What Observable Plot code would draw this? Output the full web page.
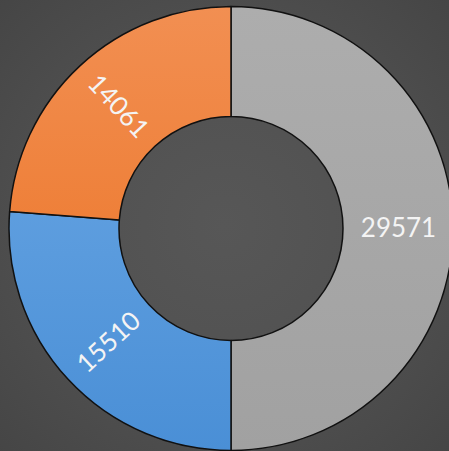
<!DOCTYPE html>
<html>
<head>
<meta charset="utf-8">
<script src="https://cdn.jsdelivr.net/npm/d3@7"></script>
<script src="https://cdn.jsdelivr.net/npm/@observablehq/plot@0.6"></script>
<style>
  html, body { margin: 0; padding: 0; background: #4a4a4a; overflow: hidden; }
  #chart svg { display: block; }
</style>
</head>
<body>
<div id="chart"></div>
<script>
// Data, clockwise from 12 o'clock
const categories = ["Gray", "Blue", "Orange"];
const values = [29571, 15510, 14061];
const colorsTop = ["#adadad", "#6eaae6", "#f28f52"];
const colorsBottom = ["#a1a1a1", "#4a8fd6", "#ea6f1e"];

const W = 449, H = 451;
const cx = 231, cy = 228.5, R = 222;
const innerRatio = 112 / 222;

const pie = d3.pie().sort(null).value(d => d.value);
const table = categories.map((c, i) => ({category: c, value: values[i], i}));
const arcs = pie(table);

const labels = arcs.map(a => {
  const mid = (a.startAngle + a.endAngle) / 2;
  const rm = (innerRatio + 1) / 2;
  const deg = mid * 180 / Math.PI;
  return {
    x: rm * Math.sin(mid),
    y: rm * Math.cos(mid),
    text: String(a.data.value),
    rotate: deg <= 180 ? deg - 90 : deg - 270
  };
});

function donut(index, scales, values, dimensions, context) {
  const ns = "http://www.w3.org/2000/svg";
  const g = document.createElementNS(ns, "g");
  const x0 = scales.x(0), y0 = scales.y(0);
  const rOuter = scales.x(1) - scales.x(0);
  const rInner = rOuter * innerRatio;
  const defs = document.createElementNS(ns, "defs");
  const bg = document.createElementNS(ns, "radialGradient");
  bg.setAttribute("id", "bggrad");
  bg.setAttribute("cx", "0.5"); bg.setAttribute("cy", "0.5"); bg.setAttribute("r", "0.72");
  [[0, "#575757"], [0.5, "#515151"], [1, "#454545"]].forEach(([o, c]) => {
    const s = document.createElementNS(ns, "stop");
    s.setAttribute("offset", o); s.setAttribute("stop-color", c); bg.appendChild(s);
  });
  defs.appendChild(bg);
  arcs.forEach((a, i) => {
    const lg = document.createElementNS(ns, "linearGradient");
    lg.setAttribute("id", "grad" + i);
    lg.setAttribute("gradientUnits", "userSpaceOnUse");
    lg.setAttribute("x1", 0); lg.setAttribute("x2", 0);
    lg.setAttribute("y1", -rOuter); lg.setAttribute("y2", rOuter);
    [[0, colorsTop[i]], [1, colorsBottom[i]]].forEach(([o, c]) => {
      const s = document.createElementNS(ns, "stop");
      s.setAttribute("offset", o);
      s.setAttribute("stop-color", c);
      lg.appendChild(s);
    });
    defs.appendChild(lg);
  });
  g.appendChild(defs);
  const rect = document.createElementNS(ns, "rect");
  rect.setAttribute("x", 0); rect.setAttribute("y", 0);
  rect.setAttribute("width", dimensions.width); rect.setAttribute("height", dimensions.height);
  rect.setAttribute("fill", "url(#bggrad)");
  g.appendChild(rect);
  const arc = d3.arc().innerRadius(rInner).outerRadius(rOuter);
  arcs.forEach((a, i) => {
    const p = document.createElementNS(ns, "path");
    p.setAttribute("d", arc(a));
    p.setAttribute("transform", `translate(${x0},${y0})`);
    p.setAttribute("fill", `url(#grad${i})`);
    p.setAttribute("stroke", "#111");
    p.setAttribute("stroke-width", 1.5);
    p.setAttribute("stroke-linejoin", "round");
    g.appendChild(p);
  });
  return g;
}

const plot = Plot.plot({
  width: W,
  height: H,
  margin: 0,
  x: {domain: [-cx / R, (W - cx) / R], axis: null},
  y: {domain: [-(H - cy) / R, cy / R], axis: null},
  style: {background: "#4a4a4a", overflow: "visible"},
  marks: [
    donut,
    Plot.text(labels, {
      x: "x", y: "y", text: "text", rotate: "rotate",
      fill: "#f4f4f4", fontSize: 26, fontFamily: "Lato",
      textAnchor: "middle", lineAnchor: "middle"
    })
  ]
});
document.getElementById("chart").appendChild(plot);
</script>
</body>
</html>
